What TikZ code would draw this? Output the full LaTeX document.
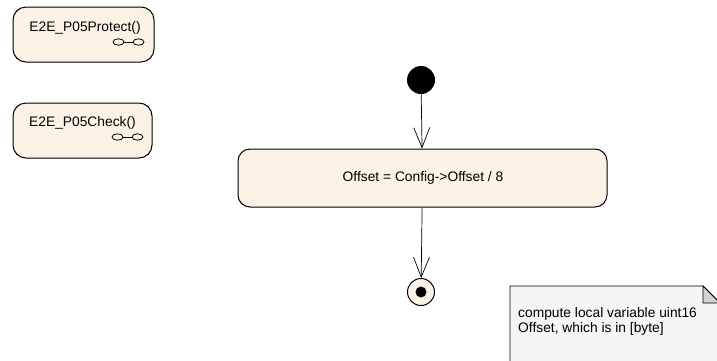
\documentclass[tikz,border=0pt]{standalone}
\usepackage{fontspec}
\setmainfont{Liberation Sans}
\usetikzlibrary{arrows.meta,calc}
\definecolor{actfill}{HTML}{FBF2E6}
\definecolor{notefill}{HTML}{F6F4F6}
\definecolor{foldfill}{HTML}{D4D2D4}
\tikzset{
  act/.style={draw, line width=1pt, fill=actfill, rounded corners=13pt, inner sep=0pt},
  flow/.style={draw, line width=0.7pt, -{Straight Barb[length=20pt,width=16pt,line width=0.7pt]}},
  lbl/.style={font=\fontsize{13.8}{15}\selectfont, inner sep=0pt},
  linkicon/.style={line width=0.8pt}
}
\begin{document}
\begin{tikzpicture}[x=1pt,y=-1pt]
\useasboundingbox (0,0) rectangle (717,360);
% call behaviour boxes
\path[act] (13,7) rectangle (154,62);
\node[lbl] (prot) at (85,28) {E2E\_P05Protect()};
\coordinate (pi) at (128.5,42);
\draw[linkicon] ($(pi)+(-10,0)$) ellipse (5.5 and 3.2);
\draw[linkicon] ($(pi)+(10,0)$) ellipse (5.5 and 3.2);
\draw[linkicon] ($(pi)+(-4.5,0)$) -- ($(pi)+(4.5,0)$);
\path[act] (13,103) rectangle (152,158);
\node[lbl] (chk) at (82.5,123) {E2E\_P05Check()};
\coordinate (ci) at (127.5,137);
\draw[linkicon] ($(ci)+(-10,0)$) ellipse (5.5 and 3.2);
\draw[linkicon] ($(ci)+(10,0)$) ellipse (5.5 and 3.2);
\draw[linkicon] ($(ci)+(-4.5,0)$) -- ($(ci)+(4.5,0)$);
% initial
\node[circle, fill=black, minimum size=28pt, inner sep=0pt] (init) at (421,80) {};
% action
\node[act, minimum width=369pt, minimum height=58pt, rounded corners=12pt] (act) at (422.5,178) {};
\node[lbl] (acttext) at (423,178) {Offset = Config->Offset / 8};
% final
\node[circle, draw, line width=1pt, fill=actfill, minimum size=27pt, inner sep=0pt] (fin) at (421,292) {};
\node[circle, fill=black, minimum size=11pt, inner sep=0pt] at (fin) {};
\draw[flow] (init) -- (act);
\draw[flow] (act) -- (fin);
% note
\draw[line width=0.8pt, fill=notefill] (510,370) -- (510,286) -- (703,286) -- (720,303) -- (720,370);
\draw[line width=0.8pt, fill=foldfill] (703,286) -- (703,303) -- (720,303) -- cycle;
\node[lbl, anchor=west, align=left] (note) at (518,321.5) {compute local variable uint16\\Offset, which is in [byte]};
\end{tikzpicture}
\end{document}
